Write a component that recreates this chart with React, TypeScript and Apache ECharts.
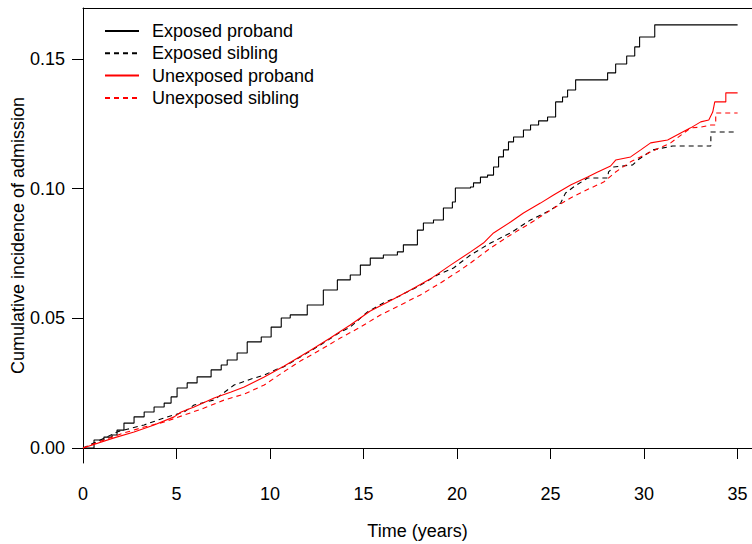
import React, { useEffect, useRef } from "react";
import * as echarts from "echarts";

const xTicks = [0, 5, 10, 15, 20, 25, 30, 35];
const yTicks = [0, 0.05, 0.1, 0.15];
const seriesNames = ["Exposed proband", "Exposed sibling", "Unexposed proband", "Unexposed sibling"];

const exposedProbandTime = [0, 0.59, 1.12, 1.55, 1.82, 2.19, 2.73, 3.27, 3.8, 4.34, 4.71, 5.03, 5.57, 6.1, 6.85, 7.39, 7.71, 8.24, 8.78, 9.53, 10.06, 10.6, 11.08, 11.99, 12.85, 13.6, 14.29, 14.83, 15.36, 16.06, 16.81, 17.13, 17.88, 18.2, 18.74, 19.27, 19.75, 19.91, 20.72, 20.88, 21.25, 21.63, 21.95, 22.22, 22.48, 22.75, 23.02, 23.55, 23.93, 24.36, 24.84, 25.27, 25.64, 25.91, 26.34, 28.05, 28.48, 29.07, 29.5, 29.76, 30.57, 35.0];
const exposedProbandCI = [0, 0.0031, 0.0042, 0.005, 0.0069, 0.0096, 0.012, 0.0139, 0.0158, 0.0173, 0.0197, 0.0231, 0.0251, 0.0274, 0.0301, 0.032, 0.0339, 0.0366, 0.0409, 0.0428, 0.0466, 0.0501, 0.0513, 0.0551, 0.0609, 0.0648, 0.0667, 0.0705, 0.0732, 0.0744, 0.0756, 0.0783, 0.084, 0.0867, 0.0879, 0.0925, 0.0948, 0.1002, 0.1006, 0.1022, 0.1044, 0.1052, 0.1083, 0.1122, 0.1149, 0.118, 0.1199, 0.1226, 0.1245, 0.1261, 0.1276, 0.1334, 0.1353, 0.138, 0.1419, 0.1446, 0.148, 0.1511, 0.1546, 0.1584, 0.1631, 0.1631];

const exposedSiblingTime = [0, 0.6, 1.2, 1.82, 2.36, 3.27, 4.34, 5.41, 5.94, 7.01, 8.08, 8.99, 9.69, 10.39, 10.71, 11.62, 12.69, 13.76, 14.29, 15.2, 16.06, 16.81, 17.88, 18.95, 19.81, 20.72, 21.79, 22.86, 23.93, 25.0, 25.54, 25.8, 26.23, 26.98, 28.05, 28.1, 28.37, 29.39, 29.66, 30.46, 31.53, 33.57, 33.57, 35.0];
const exposedSiblingCI = [0, 0.002, 0.004, 0.0062, 0.0072, 0.0089, 0.0116, 0.0139, 0.0166, 0.0185, 0.0243, 0.0266, 0.0281, 0.0305, 0.0312, 0.0351, 0.0397, 0.0447, 0.0466, 0.0524, 0.0559, 0.0582, 0.0621, 0.0667, 0.0694, 0.0744, 0.079, 0.0829, 0.0879, 0.0917, 0.0944, 0.0983, 0.1006, 0.1041, 0.1041, 0.1064, 0.1083, 0.1091, 0.111, 0.1149, 0.1164, 0.1164, 0.1218, 0.1218];

const unexposedProbandTime = [0, 1.66, 2.73, 3.8, 4.87, 5.25, 5.94, 7.01, 7.92, 8.62, 9.69, 10.76, 12.15, 13.22, 14.29, 15.36, 16.43, 17.51, 18.58, 19.65, 20.72, 21.41, 21.95, 22.86, 23.55, 24.46, 25.16, 26.07, 26.98, 27.52, 28.21, 28.48, 29.28, 29.82, 30.35, 31.26, 31.96, 32.49, 33.03, 33.46, 33.67, 33.78, 34.37, 34.37, 35.0];
const unexposedProbandCI = [0, 0.0039, 0.0062, 0.0089, 0.012, 0.0139, 0.0158, 0.0193, 0.0216, 0.0235, 0.0274, 0.0316, 0.0376, 0.0424, 0.0474, 0.0528, 0.0568, 0.0609, 0.0652, 0.0705, 0.0756, 0.079, 0.0829, 0.0871, 0.0906, 0.0944, 0.0975, 0.1014, 0.1045, 0.1064, 0.1087, 0.111, 0.1122, 0.1149, 0.1176, 0.1187, 0.1214, 0.1234, 0.1257, 0.1264, 0.1295, 0.1334, 0.1334, 0.1369, 0.1369];

const unexposedSiblingTime = [0, 1.12, 2.19, 3.27, 4.34, 5.41, 6.48, 7.55, 8.62, 9.69, 10.76, 11.62, 12.69, 13.76, 14.83, 15.9, 16.97, 18.04, 19.11, 20.18, 20.72, 21.79, 22.86, 23.93, 25.0, 26.07, 27.14, 27.84, 28.48, 29.28, 30.35, 31.42, 32.49, 33.03, 33.57, 33.83, 33.83, 35.0];
const unexposedSiblingCI = [0, 0.0031, 0.0058, 0.0081, 0.01, 0.0127, 0.0154, 0.0185, 0.0208, 0.0243, 0.0295, 0.0335, 0.0378, 0.0424, 0.0466, 0.0513, 0.0551, 0.059, 0.0636, 0.0686, 0.0713, 0.0771, 0.0821, 0.0867, 0.0917, 0.0964, 0.1002, 0.1025, 0.1064, 0.1103, 0.1141, 0.1176, 0.1234, 0.1237, 0.1245, 0.1245, 0.1291, 0.1291];

const pairs = (t: number[], v: number[]) => t.map((x, i) => [x, v[i]]);

const FONT = "'Liberation Sans', Arial, Helvetica, sans-serif";

export default function App() {
  const ref = useRef<HTMLDivElement>(null);
  useEffect(() => {
    const chart = echarts.init(ref.current!, null, { renderer: "svg" });
    const xMin = 0;
    const xMax = 35.77;
    const mkSeries = (i: number, t: number[], v: number[], color: string, dashed: boolean, step: boolean) => ({
      name: seriesNames[i],
      type: "line",
      step: step ? "end" : false,
      data: pairs(t, v),
      showSymbol: false,
      symbol: "none",
      legendIcon: "line",
      lineStyle: { color, width: 1.1, type: dashed ? [5, 4] : "solid" },
      itemStyle: { color },
    });
    chart.setOption({
      animation: false,
      backgroundColor: "#ffffff",
      textStyle: { fontFamily: FONT },
      grid: { left: 83, right: 0, top: 8, bottom: 81, containLabel: false, outerBoundsMode: "none" },
      legend: {
        orient: "vertical",
        left: 99,
        top: 17,
        itemWidth: 34,
        itemHeight: 14,
        itemGap: 4.3,
        data: seriesNames,
        itemStyle: { color: "rgba(0,0,0,0)", borderWidth: 0, opacity: 0 },
        textStyle: { fontSize: 18, color: "#000", fontFamily: FONT, padding: [0, 0, 0, 8] },
      },
      xAxis: [
        {
          type: "value",
          min: xMin,
          max: xMax,
          position: "bottom",
          offset: 2,
          name: "Time (years)",
          nameLocation: "middle",
          nameGap: 57,
          nameMoveOverlap: false,
          nameTextStyle: { fontSize: 18, color: "#000", fontFamily: FONT },
          axisLine: { show: true, lineStyle: { color: "#000", width: 1 } },
          axisTick: { show: true, inside: false, length: 11, customValues: xTicks, lineStyle: { color: "#000" } },
          axisLabel: { show: true, customValues: xTicks, margin: 20, fontSize: 18, color: "#000", fontFamily: FONT },
          splitLine: { show: false },
        },
        {
          type: "value",
          min: xMin,
          max: xMax,
          position: "top",
          axisLine: { show: true, lineStyle: { color: "#000", width: 1 } },
          axisTick: { show: false },
          axisLabel: { show: false },
          splitLine: { show: false },
        },
      ],
      yAxis: {
        type: "value",
        min: -0.00578,
        max: 0.1696,
        name: "Cumulative incidence of admission",
        nameLocation: "middle",
        nameGap: 56,
        nameMoveOverlap: false,
        nameTextStyle: { fontSize: 18, color: "#000", fontFamily: FONT },
        axisLine: { show: true, lineStyle: { color: "#000", width: 1 } },
        axisTick: { show: true, inside: false, length: 11, customValues: yTicks, lineStyle: { color: "#000" } },
        axisLabel: {
          show: true,
          customValues: yTicks,
          margin: 18,
          fontSize: 18,
          color: "#000",
          fontFamily: FONT,
          formatter: (v: number) => v.toFixed(2),
        },
        splitLine: { show: false },
      },
      series: [
        mkSeries(0, exposedProbandTime, exposedProbandCI, "#000000", false, true),
        mkSeries(1, exposedSiblingTime, exposedSiblingCI, "#000000", true, false),
        mkSeries(2, unexposedProbandTime, unexposedProbandCI, "#ff0000", false, false),
        mkSeries(3, unexposedSiblingTime, unexposedSiblingCI, "#ff0000", true, false),
      ],
    });
    return () => chart.dispose();
  }, []);
  return <div ref={ref} style={{ position: "absolute", left: 0, top: 0, width: 752, height: 544 }} />;
}
